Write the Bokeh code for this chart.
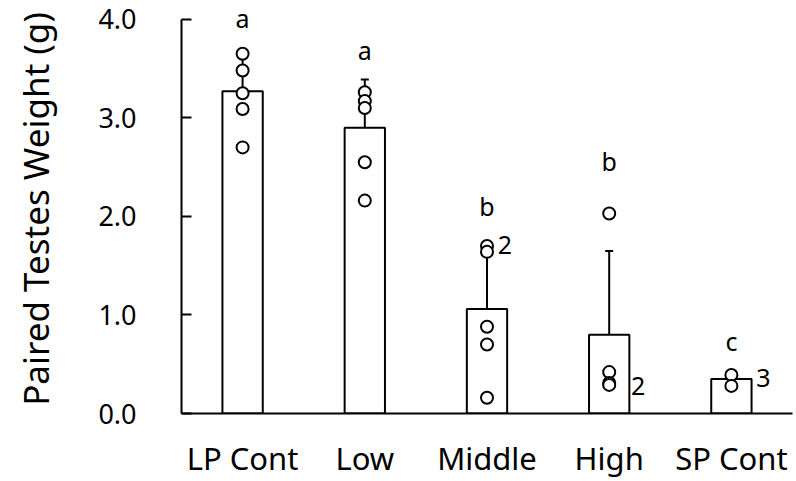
from bokeh.plotting import figure
from bokeh.models import (ColumnDataSource, LabelSet, Whisker, TeeHead, FixedTicker,
                          Range1d, FactorRange, PrintfTickFormatter)
from bokeh.core.properties import value
from bokeh.embed import file_html
from bokeh.resources import INLINE

groups = ["LP Cont", "Low", "Middle", "High", "SP Cont"]
means = [3.27, 2.90, 1.06, 0.80, 0.35]
sds = [0.36, 0.49, 0.62, 0.85, 0.03]
points = {
    "LP Cont": [3.65, 3.48, 3.25, 3.09, 2.70],
    "Low": [3.26, 3.17, 3.10, 2.55, 2.16],
    "Middle": [1.70, 1.64, 0.88, 0.70, 0.16],
    "High": [2.03, 0.42, 0.31, 0.29],
    "SP Cont": [0.39, 0.28],
}
letters = ["a", "a", "b", "b", "c"]
letter_y = [4.01, 3.69, 2.11, 2.56, 0.74]
count_groups = ["Middle", "High", "SP Cont"]
count_text = ["2", "2", "3"]
count_y = [1.71, 0.28, 0.36]
y_ticks = [0, 1, 2, 3, 4]

FONT = "Noto Sans"

p = figure(x_range=FactorRange(*groups, range_padding=0, factor_padding=0),
           y_range=Range1d(0, 4.15),
           width=796, height=481, output_backend="svg", toolbar_location=None,
           min_border_left=181, min_border_right=4, min_border_top=4,
           min_border_bottom=68)
p.outline_line_color = None
p.xgrid.visible = False
p.ygrid.visible = False
p.background_fill_color = "white"
p.border_fill_color = "white"

# bars
bar_src = ColumnDataSource(dict(x=groups, top=means, upper=[m + s for m, s in zip(means, sds)]))
p.vbar(x="x", top="top", width=0.33, source=bar_src, fill_color="white",
       line_color="black", line_width=2)

# error bars (upper only)
w = Whisker(base="x", lower="top", upper="upper", source=bar_src,
            line_color="black", line_width=2, lower_head=None,
            upper_head=TeeHead(size=8, line_color="black", line_width=2))
p.add_layout(w)

# individual points
px, py = [], []
for g in groups:
    for v in points[g]:
        px.append(g)
        py.append(v)
p.scatter(x=px, y=py, size=12, marker="circle", fill_color="white",
          line_color="black", line_width=2)

# significance letters
let_src = ColumnDataSource(dict(x=groups, y=letter_y, t=letters))
p.add_layout(LabelSet(x="x", y="y", text="t", source=let_src, text_align="center",
                      text_baseline="middle", text_font=value(FONT),
                      text_font_size=value("25px"), text_color="black"))

# overlap counts
cnt_src = ColumnDataSource(dict(x=count_groups, y=count_y, t=count_text, dx=[18, 29, 32]))
p.add_layout(LabelSet(x="x", y="y", text="t", source=cnt_src, x_offset="dx",
                      text_align="center", text_baseline="middle", text_font=value(FONT),
                      text_font_size=value("25px"), text_color="black"))

# y axis
ya = p.yaxis[0]
ya.ticker = FixedTicker(ticks=y_ticks)
ya.formatter = PrintfTickFormatter(format="%.1f")
ya.bounds = (0, 4)
ya.major_tick_in = 10
ya.major_tick_out = 0
ya.minor_tick_line_color = None
ya.major_tick_line_width = 2
ya.axis_line_width = 2
ya.major_label_standoff = 45
ya.major_label_text_font = FONT
ya.major_label_text_font_size = "27px"
ya.major_label_text_color = "black"
ya.axis_label = "Paired Testes Weight (g)"
ya.axis_label_text_font = FONT
ya.axis_label_text_font_size = "35px"
ya.axis_label_text_font_style = "normal"
ya.axis_label_text_color = "black"
ya.axis_label_standoff = 36

# x axis
xa = p.xaxis[0]
xa.major_tick_in = 0
xa.major_tick_out = 0
xa.axis_line_width = 2
xa.major_label_standoff = 23
xa.major_label_text_font = FONT
xa.major_label_text_font_size = "31px"
xa.major_label_text_color = "black"

open("out.html", "w").write(file_html(p, INLINE))
